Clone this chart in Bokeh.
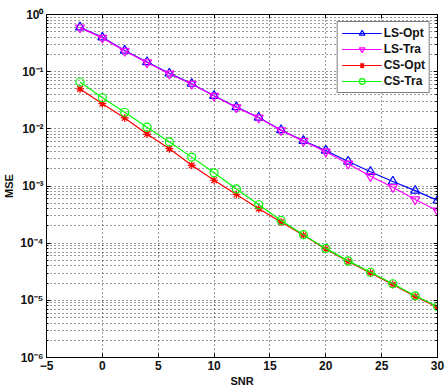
from bokeh.plotting import figure
from bokeh.models import (FixedTicker, CustomJSTickFormatter, Legend, LegendItem,
                          LinearAxis, LogAxis)
from bokeh.embed import file_html
from bokeh.resources import INLINE

snr = [-2, 0, 2, 4, 6, 8, 10, 12, 14, 16, 18, 20, 22, 24, 26, 28, 30]
ls_opt = [0.60, 0.398, 0.234, 0.148, 0.0933, 0.0617, 0.038, 0.024, 0.0158, 0.00955,
          0.00617, 0.00417, 0.00269, 0.00178, 0.0012, 0.00083, 0.00056]
ls_tra = [0.59, 0.39, 0.23, 0.145, 0.092, 0.061, 0.0375, 0.0237, 0.0156, 0.0094,
          0.0061, 0.00398, 0.00245, 0.00148, 0.00095, 0.00058, 0.00037]
cs_opt = [0.050, 0.0275, 0.0155, 0.0081, 0.0045, 0.0023, 0.00126, 0.00071, 0.0004,
          0.000234, 0.000138, 7.9e-5, 4.8e-5, 3.0e-5, 1.9e-5, 1.17e-5, 7.6e-6]
cs_tra = [0.066, 0.035, 0.0195, 0.0107, 0.0059, 0.0032, 0.0017, 0.00089, 0.00047,
          0.00025, 0.000141, 8.1e-5, 4.9e-5, 3.1e-5, 1.95e-5, 1.2e-5, 7.8e-6]

x_ticks = [-5, 0, 5, 10, 15, 20, 25, 30]
y_ticks = [1e-6, 1e-5, 1e-4, 1e-3, 1e-2, 1e-1, 1e0]
y_minor = [m * d for d in y_ticks[:-1] for m in range(2, 10)]

FONT = "Liberation Sans"

p = figure(width=446, height=390, x_range=(-5, 30), y_range=(1e-6, 1),
           y_axis_type="log", output_backend="svg", toolbar_location=None,
           min_border_left=43, min_border_right=9, min_border_top=14,
           min_border_bottom=33, background_fill_color="white",
           border_fill_color="white")
p.outline_line_color = "black"
p.outline_line_width = 1
p.outline_line_alpha = 1

fmt = CustomJSTickFormatter(code=r"""
const sup = {'0':'\u2070','1':'\u00B9','2':'\u00B2','3':'\u00B3','4':'\u2074',
             '5':'\u2075','6':'\u2076','7':'\u2077','8':'\u2078','9':'\u2079','-':'\u207B'};
const e = Math.round(Math.log10(tick));
return '10' + String(e).split('').map(c => sup[c]).join('');
""")
blank = CustomJSTickFormatter(code="return ' ';")

p.xaxis.ticker = FixedTicker(ticks=x_ticks)
p.yaxis.ticker = FixedTicker(ticks=y_ticks, minor_ticks=y_minor)
p.yaxis.formatter = fmt

for ax in (p.xaxis[0], p.yaxis[0]):
    ax.axis_line_color = "black"
    ax.major_tick_line_color = "black"
    ax.major_tick_in = 4
    ax.major_tick_out = 0
    ax.minor_tick_in = 2
    ax.minor_tick_out = 0
    ax.major_label_text_font = FONT
    ax.major_label_text_font_style = "bold"
    ax.major_label_text_font_size = "12px"
    ax.major_label_text_color = "#111111"
    ax.axis_label_text_font = FONT
    ax.axis_label_text_font_style = "bold"
    ax.axis_label_text_font_size = "11px"
    ax.axis_label_text_color = "#111111"
p.xaxis.minor_tick_line_color = None
p.xaxis.axis_label = "SNR"
p.yaxis.axis_label = "MSE"
p.xaxis.major_label_standoff = 3
p.xaxis.axis_label_standoff = 2
p.yaxis.major_label_standoff = 3
p.yaxis.axis_label_standoff = 2

# box ticks on top and right
top = LinearAxis(ticker=FixedTicker(ticks=x_ticks), formatter=blank,
                 major_label_text_font_size="2px", major_label_text_color=None,
                 major_tick_in=4, major_tick_out=0, minor_tick_line_color=None,
                 axis_line_color="black", major_label_standoff=0)
right = LogAxis(ticker=FixedTicker(ticks=y_ticks, minor_ticks=y_minor), formatter=blank,
                major_label_text_font_size="2px", major_label_text_color=None,
                major_tick_in=4, major_tick_out=0,
                minor_tick_in=2, minor_tick_out=0, axis_line_color="black",
                major_label_standoff=0)
p.add_layout(top, "above")
p.add_layout(right, "right")

for g in (p.xgrid[0], p.ygrid[0]):
    g.grid_line_color = "black"
    g.grid_line_alpha = 0.8
    g.grid_line_dash = "1 3"
    g.grid_line_width = 1
p.ygrid.minor_grid_line_color = "black"
p.ygrid.minor_grid_line_alpha = 0.8
p.ygrid.minor_grid_line_dash = "1 3"

series = [
    ("LS-Opt", ls_opt, "#0000FF", "triangle", 9),
    ("LS-Tra", ls_tra, "#FF00FF", "inverted_triangle", 9),
    ("CS-Opt", cs_opt, "#FF0000", "asterisk", 8),
    ("CS-Tra", cs_tra, "#00FF00", "circle", 8),
]
items = []
for name, ys, col, mk, sz in series:
    ln = p.line(snr, ys, line_color=col, line_width=1.2)
    sc = p.scatter(snr, ys, marker=mk, size=sz, line_color=col, fill_color=None,
                   line_width=1.2)
    items.append(LegendItem(label=name, renderers=[ln, sc]))

legend = Legend(items=items, location="top_right", margin=7, padding=4, spacing=2,
                label_height=14, glyph_height=14, glyph_width=40, label_standoff=2,
                label_text_font=FONT, label_text_font_style="bold",
                label_text_font_size="12px", label_text_color="#111111",
                border_line_color="black", border_line_width=1.2,
                background_fill_color="white", background_fill_alpha=1)
p.add_layout(legend)

open("out.html", "w", encoding="utf-8").write(file_html(p, INLINE))
